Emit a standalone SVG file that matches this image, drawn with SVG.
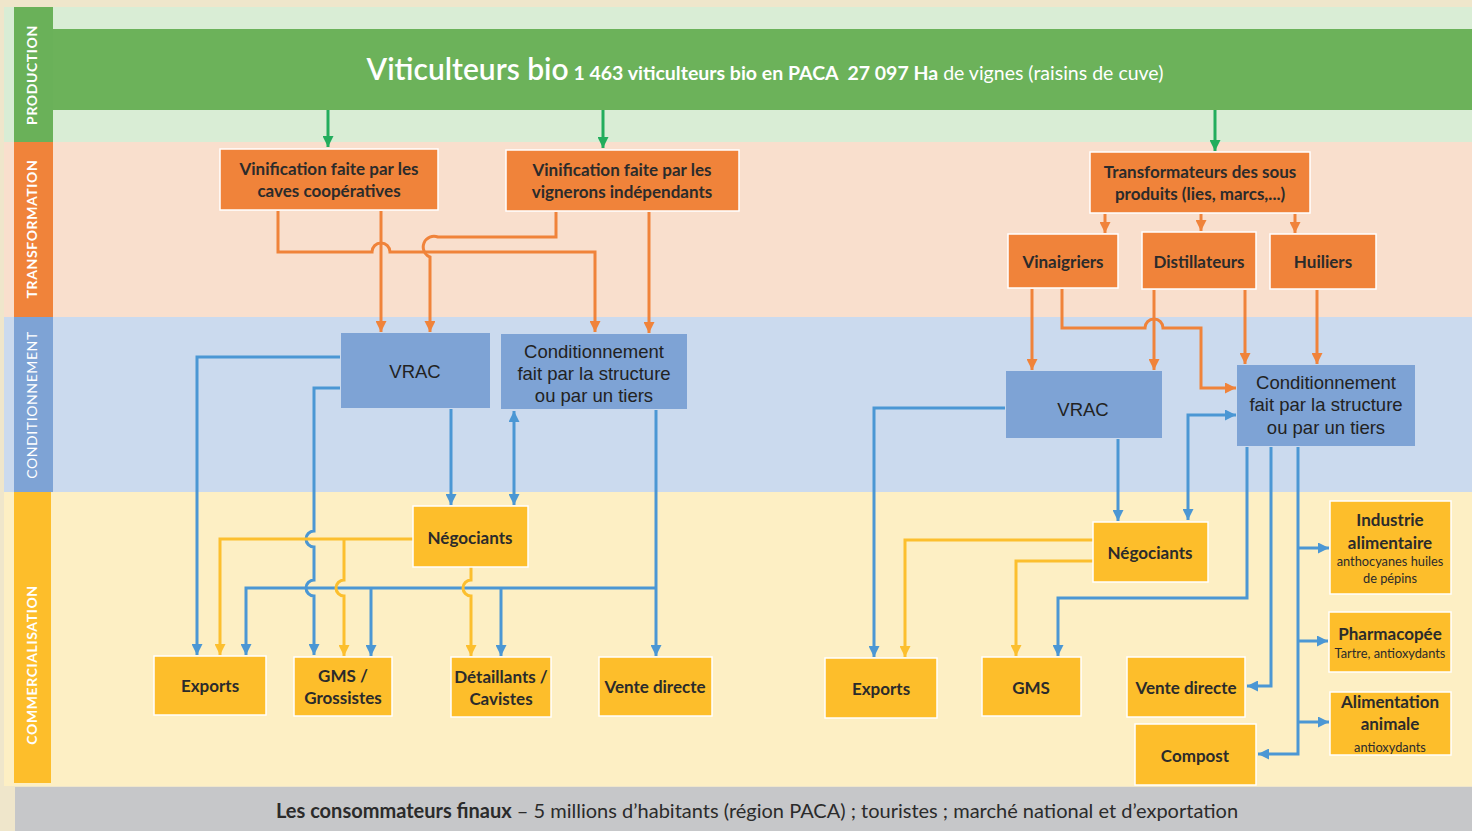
<svg xmlns="http://www.w3.org/2000/svg" width="1472" height="831" viewBox="0 0 1472 831">
<style>
.lbl{font-family:Lato,"Open Sans",sans-serif;font-size:14px;fill:#fff;text-anchor:middle;letter-spacing:0.6px}
.ob{fill:#f0833a;stroke:#fff;stroke-width:1.5}
.yb{fill:#fdbe2b;stroke:#fff;stroke-width:1.5}
.bb{fill:#7ea3d5}
.t{font-family:Lato,"Open Sans",sans-serif;font-weight:bold;font-size:17px;fill:#2b2b2b;text-anchor:middle}
.ts{font-family:Lato,"Open Sans",sans-serif;font-size:12.8px;fill:#2b2b2b;text-anchor:middle}
.tb{font-family:"Liberation Sans",Arial,sans-serif;font-size:18.5px;fill:#222;text-anchor:middle}
.co{fill:none;stroke:#f0833a;stroke-width:3}
.cb{fill:none;stroke:#4b97d4;stroke-width:3}
.cy{fill:none;stroke:#fcbf2e;stroke-width:3}
.cg{fill:none;stroke:#22ad5c;stroke-width:3}
</style>
<defs>
<marker id="ao" viewBox="0 0 10 10" refX="10" refY="5" markerWidth="11" markerHeight="11" markerUnits="userSpaceOnUse" orient="auto-start-reverse"><path d="M0,0 L10,5 L0,10 z" fill="#f0833a"/></marker>
<marker id="ab" viewBox="0 0 10 10" refX="10" refY="5" markerWidth="11" markerHeight="11" markerUnits="userSpaceOnUse" orient="auto-start-reverse"><path d="M0,0 L10,5 L0,10 z" fill="#4b97d4"/></marker>
<marker id="ay" viewBox="0 0 10 10" refX="10" refY="5" markerWidth="11" markerHeight="11" markerUnits="userSpaceOnUse" orient="auto-start-reverse"><path d="M0,0 L10,5 L0,10 z" fill="#fcbf2e"/></marker>
<marker id="ag" viewBox="0 0 10 10" refX="10" refY="5" markerWidth="11" markerHeight="11" markerUnits="userSpaceOnUse" orient="auto-start-reverse"><path d="M0,0 L10,5 L0,10 z" fill="#22ad5c"/></marker>
</defs>

<!-- background bands -->
<rect x="0" y="0" width="1472" height="831" fill="#efe6cb"/>
<rect x="4" y="7" width="1468" height="135" fill="#d9edd5"/>
<rect x="4" y="142" width="1468" height="175" fill="#f9dfcd"/>
<rect x="4" y="317" width="1468" height="175" fill="#cbdaee"/>
<rect x="4" y="492" width="1468" height="294" fill="#fdefc4"/>
<rect x="15" y="787" width="1457" height="44" fill="#c6c7c9"/>

<!-- band labels -->
<g id="lbl-production">
<rect x="14" y="7" width="39" height="135" fill="#6ab159"/>
<text class="lbl" font-weight="bold" transform="translate(37,75) rotate(-90)">PRODUCTION</text>
</g>
<g id="lbl-transformation">
<rect x="14" y="142" width="39" height="175" fill="#f0833a"/>
<text class="lbl" font-weight="bold" transform="translate(37,229) rotate(-90)">TRANSFORMATION</text>
</g>
<g id="lbl-conditionnement">
<rect x="14" y="317" width="39" height="175" fill="#7ea3d5"/>
<text class="lbl" transform="translate(37,405) rotate(-90)">CONDITIONNEMENT</text>
</g>
<g id="lbl-commercialisation">
<rect x="14" y="492" width="37" height="291" fill="#fdbe2b"/>
<text class="lbl" font-weight="bold" transform="translate(37,665) rotate(-90)">COMMERCIALISATION</text>
</g>

<!-- production bar -->
<g id="viticulteurs">
<rect x="53" y="29" width="1419" height="81" fill="#6cb25a"/>
<text x="765" y="80" text-anchor="middle" font-family="Lato,'Open Sans',sans-serif" fill="#fff" font-size="19.5"><tspan font-size="30" font-weight="600">Viticulteurs bio</tspan><tspan font-weight="bold"> 1 463 viticulteurs bio en PACA &#160;27 097 Ha</tspan><tspan> de vignes (raisins de cuve)</tspan></text>
</g>

<!-- connectors -->
<g id="connectors">
<path class="cg" marker-end="url(#ag)" d="M328,110 V147"/>
<path class="cg" marker-end="url(#ag)" d="M603,110 V148"/>
<path class="cg" marker-end="url(#ag)" d="M1215,110 V151"/>

<!-- orange left -->
<path class="co" marker-end="url(#ao)" d="M278,211 V252 H372 A9,9 0 0 1 390,252 H595 V332"/>
<path class="co" marker-end="url(#ao)" d="M381,211 V332"/>
<path class="co" marker-end="url(#ao)" d="M556,212 V237 H438 A10,10 0 0 0 430,257 V332"/>
<path class="co" marker-end="url(#ao)" d="M649,212 V333"/>
<!-- orange right -->
<path class="co" marker-end="url(#ao)" d="M1105,214 V233"/>
<path class="co" marker-end="url(#ao)" d="M1201,214 V231"/>
<path class="co" marker-end="url(#ao)" d="M1295,214 V233"/>
<path class="co" marker-end="url(#ao)" d="M1032,289 V370"/>
<path class="co" marker-end="url(#ao)" d="M1062,289 V328 H1145 A9,9 0 0 1 1163,328 H1201 V388 H1236"/>
<path class="co" marker-end="url(#ao)" d="M1154,290 V370"/>
<path class="co" marker-end="url(#ao)" d="M1245,290 V364"/>
<path class="co" marker-end="url(#ao)" d="M1317,290 V364"/>

<!-- blue left -->
<path class="cb" marker-end="url(#ab)" d="M340,357 H197 V655"/>
<path class="cb" marker-end="url(#ab)" d="M340,388 H314 V531 A8,8 0 0 0 314,547 V580 A8,8 0 0 0 314,596 V655"/>
<path class="cb" marker-end="url(#ab)" d="M451,409 V505"/>
<path class="cb" marker-start="url(#ab)" marker-end="url(#ab)" d="M514,411 V505"/>
<path class="cb" marker-end="url(#ab)" d="M656,410 V656"/>
<path class="cb" marker-end="url(#ab)" d="M656,588 H246 V655"/>
<path class="cb" marker-end="url(#ab)" d="M371,588 V656"/>
<path class="cb" marker-end="url(#ab)" d="M501,588 V656"/>
<!-- yellow left -->
<path class="cy" marker-end="url(#ay)" d="M413,539 H220 V655"/>
<path class="cy" marker-end="url(#ay)" d="M344,539 V580 A8,8 0 0 0 344,596 V656"/>
<path class="cy" marker-end="url(#ay)" d="M471,567 V580 A8,8 0 0 0 471,596 V656"/>

<!-- blue right -->
<path class="cb" marker-end="url(#ab)" d="M1005,408 H874 V657"/>
<path class="cb" marker-end="url(#ab)" d="M1118,439 V521"/>
<path class="cb" marker-start="url(#ab)" marker-end="url(#ab)" d="M1188,520 V415 H1236"/>
<path class="cb" marker-end="url(#ab)" d="M1247,447 V598 H1058 V656"/>
<path class="cb" marker-end="url(#ab)" d="M1271,447 V686 H1247"/>
<path class="cb" marker-end="url(#ab)" d="M1298,447 V754 H1258"/>
<path class="cb" marker-end="url(#ab)" d="M1298,548 H1329"/>
<path class="cb" marker-end="url(#ab)" d="M1298,641 H1328"/>
<path class="cb" marker-end="url(#ab)" d="M1298,722 H1329"/>
<!-- yellow right -->
<path class="cy" marker-end="url(#ay)" d="M1093,540 H905 V657"/>
<path class="cy" marker-end="url(#ay)" d="M1093,561 H1016 V656"/>
</g>

<!-- transformation nodes -->
<g id="vinif-caves">
<rect class="ob" x="220" y="149" width="218" height="61"/>
<text class="t" x="329" y="175">Vinification faite par les</text>
<text class="t" x="329" y="197">caves coopératives</text>
</g>
<g id="vinif-vignerons">
<rect class="ob" x="506" y="150" width="233" height="61"/>
<text class="t" x="622" y="176">Vinification faite par les</text>
<text class="t" x="622" y="198">vignerons indépendants</text>
</g>
<g id="transformateurs">
<rect class="ob" x="1090" y="152" width="220" height="61"/>
<text class="t" x="1200" y="178">Transformateurs des sous</text>
<text class="t" x="1200" y="200">produits (lies, marcs,...)</text>
</g>
<g id="vinaigriers">
<rect class="ob" x="1008" y="234" width="110" height="54"/>
<text class="t" x="1063" y="268">Vinaigriers</text>
</g>
<g id="distillateurs">
<rect class="ob" x="1142" y="232" width="114" height="57"/>
<text class="t" x="1199" y="268">Distillateurs</text>
</g>
<g id="huiliers">
<rect class="ob" x="1270" y="234" width="106" height="55"/>
<text class="t" x="1323" y="268">Huiliers</text>
</g>

<!-- conditionnement nodes -->
<g id="vrac-left">
<rect class="bb" x="341" y="333" width="149" height="75"/>
<text class="tb" x="415" y="378" font-size="19">VRAC</text>
</g>
<g id="cond-left">
<rect class="bb" x="501" y="334" width="186" height="75"/>
<text class="tb" x="594" y="358">Conditionnement</text>
<text class="tb" x="594" y="380">fait par la structure</text>
<text class="tb" x="594" y="402">ou par un tiers</text>
</g>
<g id="vrac-right">
<rect class="bb" x="1006" y="371" width="156" height="67"/>
<text class="tb" x="1083" y="416" font-size="19">VRAC</text>
</g>
<g id="cond-right">
<rect class="bb" x="1237" y="365" width="178" height="81"/>
<text class="tb" x="1326" y="389">Conditionnement</text>
<text class="tb" x="1326" y="411">fait par la structure</text>
<text class="tb" x="1326" y="434">ou par un tiers</text>
</g>

<!-- commercialisation nodes left -->
<g id="negociants-left">
<rect class="yb" x="413" y="506" width="115" height="61"/>
<text class="t" x="470" y="544">Négociants</text>
</g>
<g id="exports-left">
<rect class="yb" x="154" y="656" width="112" height="59"/>
<text class="t" x="210" y="692">Exports</text>
</g>
<g id="gms-left">
<rect class="yb" x="294" y="657" width="98" height="59"/>
<text class="t" x="343" y="682">GMS /</text>
<text class="t" x="343" y="704">Grossistes</text>
</g>
<g id="detaillants">
<rect class="yb" x="451" y="657" width="100" height="60"/>
<text class="t" x="501" y="683">Détaillants /</text>
<text class="t" x="501" y="705">Cavistes</text>
</g>
<g id="vente-left">
<rect class="yb" x="599" y="657" width="113" height="59"/>
<text class="t" x="655" y="693">Vente directe</text>
</g>

<!-- commercialisation nodes right -->
<g id="negociants-right">
<rect class="yb" x="1093" y="522" width="115" height="60"/>
<text class="t" x="1150" y="559">Négociants</text>
</g>
<g id="exports-right">
<rect class="yb" x="825" y="658" width="112" height="60"/>
<text class="t" x="881" y="695">Exports</text>
</g>
<g id="gms-right">
<rect class="yb" x="982" y="657" width="99" height="59"/>
<text class="t" x="1031" y="694">GMS</text>
</g>
<g id="vente-right">
<rect class="yb" x="1127" y="657" width="118" height="60"/>
<text class="t" x="1186" y="694">Vente directe</text>
</g>
<g id="compost">
<rect class="yb" x="1135" y="724" width="121" height="61"/>
<text class="t" x="1195" y="762">Compost</text>
</g>
<g id="industrie">
<rect class="yb" x="1330" y="501" width="121" height="93"/>
<text class="t" x="1390" y="526">Industrie</text>
<text class="t" x="1390" y="549">alimentaire</text>
<text class="ts" x="1390" y="566">anthocyanes huiles</text>
<text class="ts" x="1390" y="583">de pépins</text>
</g>
<g id="pharmacopee">
<rect class="yb" x="1329" y="612" width="122" height="60"/>
<text class="t" x="1390" y="640">Pharmacopée</text>
<text class="ts" x="1390" y="658">Tartre, antioxydants</text>
</g>
<g id="alimentation">
<rect class="yb" x="1330" y="692" width="121" height="63"/>
<text class="t" x="1390" y="708">Alimentation</text>
<text class="t" x="1390" y="730">animale</text>
<text class="ts" x="1390" y="752">antioxydants</text>
</g>

<!-- consumers bar -->
<g id="consommateurs">
<text x="757" y="818" text-anchor="middle" font-family="Lato,'Open Sans',sans-serif" font-size="20" fill="#2b2b2b"><tspan font-weight="bold">Les consommateurs finaux</tspan> – 5 millions d’habitants (région PACA) ; touristes ; marché national et d’exportation</text>
</g>
</svg>
